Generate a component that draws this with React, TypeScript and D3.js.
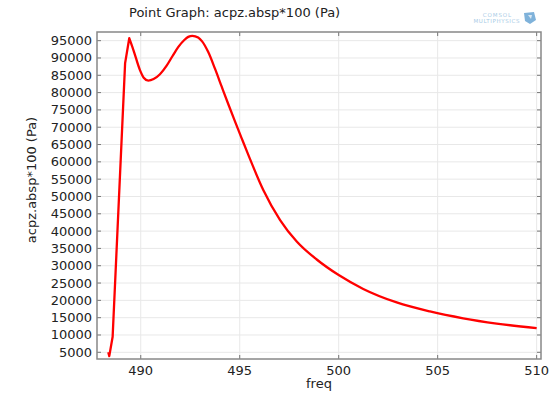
import React from "react";
import * as d3 from "d3";

const freq = [488.36, 488.41, 488.58, 489.21, 489.42, 489.63, 489.96, 490.15, 490.38, 490.65, 490.97, 491.3, 491.6, 491.9, 492.2, 492.4, 492.61, 492.9, 493.1, 493.41, 493.75, 494.09, 494.42, 494.76, 495.1, 495.43, 496.19, 497.04, 497.88, 498.89, 500.0, 501.24, 502.93, 504.61, 506.29, 507.98, 510.0];
const pressure = [5000, 3900, 9500, 88500, 95700, 92300, 86500, 84300, 83450, 83900, 85300, 87700, 90500, 93200, 95200, 96100, 96400, 95900, 94800, 91700, 86900, 81700, 76700, 71700, 66800, 62100, 51900, 43200, 37000, 31800, 27300, 23300, 19400, 16800, 14820, 13300, 11950];
const xTicks = [490, 495, 500, 505, 510];
const yTicks = [5000, 10000, 15000, 20000, 25000, 30000, 35000, 40000, 45000, 50000, 55000, 60000, 65000, 70000, 75000, 80000, 85000, 90000, 95000];

const W = 556, H = 393;
const L = 97, R = 541, T = 32, B = 359;
const FONT = "DejaVu Sans, sans-serif";
const SPLIT = 4; // index of the first resonance peak

export default function App() {
  const x = d3.scaleLinear().domain([487.79, 510.22]).range([L, R]);
  const y = d3.scaleLinear().domain([3065, 97500]).range([B, T]);
  const pts = freq.map((f, i) => [f, pressure[i]] as [number, number]);
  const lin = d3.line<[number, number]>().x(d => x(d[0])).y(d => y(d[1]));
  const smooth = d3.line<[number, number]>().x(d => x(d[0])).y(d => y(d[1])).curve(d3.curveMonotoneX);
  const d1 = lin(pts.slice(0, SPLIT + 1)) || "";
  const d2 = (smooth(pts.slice(SPLIT)) || "").replace(/^M/, "L");
  return (
    <svg width={W} height={H} style={{ position: "absolute", left: 0, top: 0, background: "#fff" }} fontFamily={FONT}>
      <rect x={0} y={0} width={W} height={H} fill="#fff" />
      {xTicks.map(t => (
        <line key={"gx" + t} x1={x(t)} x2={x(t)} y1={T} y2={B} stroke="#e8e8e8" strokeWidth={1} />
      ))}
      {yTicks.map(t => (
        <line key={"gy" + t} x1={L} x2={R} y1={y(t)} y2={y(t)} stroke="#e8e8e8" strokeWidth={1} />
      ))}
      {xTicks.map(t => (
        <g key={"tx" + t}>
          <line x1={x(t)} x2={x(t)} y1={B} y2={B - 4} stroke="#777" />
          <line x1={x(t)} x2={x(t)} y1={T} y2={T + 4} stroke="#777" />
          <text x={x(t)} y={375} textAnchor="middle" fontSize={13} fill="#222">{t}</text>
        </g>
      ))}
      {yTicks.map(t => (
        <g key={"ty" + t}>
          <line x1={L} x2={L + 4} y1={y(t)} y2={y(t)} stroke="#777" />
          <line x1={R} x2={R - 4} y1={y(t)} y2={y(t)} stroke="#777" />
          <text x={92} y={y(t) + 4.5} textAnchor="end" fontSize={13} fill="#222">{t}</text>
        </g>
      ))}
      <rect x={L} y={T} width={R - L} height={B - T} fill="none" stroke="#888" strokeWidth={1.5} />
      <path d={d1 + d2} fill="none" stroke="#ff0000" strokeWidth={2.3} strokeLinejoin="round" />
      <text x={129} y={17} fontSize={13} fill="#222">Point Graph: acpz.absp*100 (Pa)</text>
      <text x={(L + R) / 2} y={388} textAnchor="middle" fontSize={13} fill="#222">freq</text>
      <text transform={`translate(36,180) rotate(-90)`} textAnchor="middle" fontSize={13} fill="#222">acpz.absp*100 (Pa)</text>
      <g>
        <text x={512} y={17} textAnchor="end" fontSize={5.5} fill="#a8cbe6" letterSpacing={0.9}>COMSOL</text>
        <text x={520} y={23} textAnchor="end" fontSize={5.5} fill="#a8cbe6" letterSpacing={0.6}>MULTIPHYSICS</text>
        <path d="M524,13 L534,12 L536,20 L530,24 L525,21 Z" fill="#7fb2da" />
        <path d="M528,15 L532,15 L531,19 Z" fill="#fff" opacity={0.7} />
      </g>
    </svg>
  );
}
